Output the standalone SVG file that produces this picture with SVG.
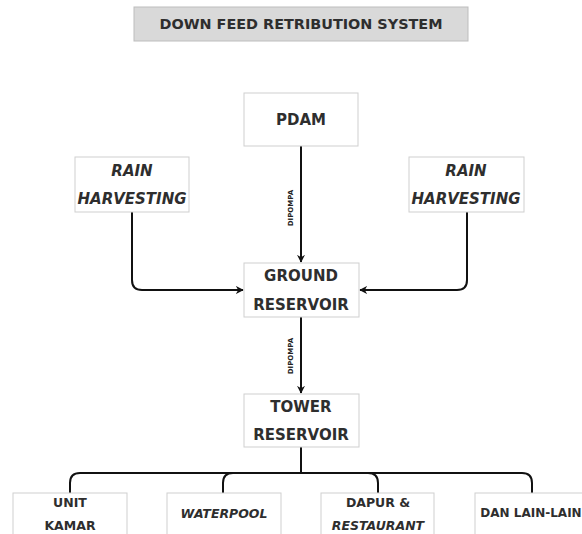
<svg xmlns="http://www.w3.org/2000/svg" width="582" height="534" viewBox="0 0 582 534">
  <defs>
    <marker id="arrow" viewBox="0 0 10 10" refX="9" refY="5" markerWidth="8" markerHeight="8" orient="auto-start-reverse" markerUnits="userSpaceOnUse">
      <path d="M0,0 L10,5 L0,10 L3,5 Z" fill="#111"/>
    </marker>
    <style>
      .box { fill: #ffffff; stroke: #cfcfcf; stroke-width: 1; }
      .title-box { fill: #d9d9d9; stroke: #bdbdbd; stroke-width: 1; }
      .lbl { font-family: "DejaVu Sans", "Liberation Sans", sans-serif; font-weight: 700; fill: #2e2e2e; text-anchor: middle; dominant-baseline: central; }
      .big { font-size: 15px; }
      .mid { font-size: 12.5px; }
      .small { font-size: 12px; }
      .it { font-style: italic; }
      .title { font-size: 14.4px; }
      .edge { fill: none; stroke: #111; stroke-width: 2; }
      .edge-lbl { font-family: "DejaVu Sans", "Liberation Sans", sans-serif; font-weight: 700; font-size: 7px; fill: #222; text-anchor: middle; dominant-baseline: central; }
    </style>
  </defs>

  <rect width="582" height="534" fill="#ffffff"/>

  <g id="title">
    <rect class="title-box" x="134" y="7" width="334" height="34"/>
    <text class="lbl title" x="301" y="24">DOWN FEED RETRIBUTION SYSTEM</text>
  </g>

  <g id="connectors">
    <!-- PDAM to ground reservoir -->
    <path class="edge" d="M301,146 V262" marker-end="url(#arrow)"/>
    <text class="edge-lbl" transform="translate(291,208) rotate(-90)">DIPOMPA</text>
    <!-- rain harvesting (left) -->
    <path class="edge" d="M132,212 V280 Q132,290 142,290 H243" marker-end="url(#arrow)"/>
    <!-- rain harvesting (right) -->
    <path class="edge" d="M467,212 V280 Q467,290 457,290 H360" marker-end="url(#arrow)"/>
    <!-- ground reservoir to tower reservoir -->
    <path class="edge" d="M301,317 V393" marker-end="url(#arrow)"/>
    <text class="edge-lbl" transform="translate(291,356) rotate(-90)">DIPOMPA</text>
    <!-- tower reservoir distribution -->
    <path class="edge" d="M301,447 V473"/>
    <path class="edge" d="M301,473 H80 Q70,473 70,483 V493"/>
    <path class="edge" d="M301,473 H233 Q223,473 223,483 V493"/>
    <path class="edge" d="M301,473 H368 Q378,473 378,483 V493"/>
    <path class="edge" d="M301,473 H522 Q532,473 532,483 V493"/>
  </g>

  <g id="pdam">
    <rect class="box" x="244" y="93" width="114" height="53"/>
    <text class="lbl big" x="301" y="120">PDAM</text>
  </g>

  <g id="rain-left">
    <rect class="box" x="75" y="157" width="114" height="55"/>
    <text class="lbl big it" x="132" y="171">RAIN</text>
    <text class="lbl big it" x="132" y="199">HARVESTING</text>
  </g>

  <g id="rain-right">
    <rect class="box" x="409" y="157" width="115" height="55"/>
    <text class="lbl big it" x="466" y="171">RAIN</text>
    <text class="lbl big it" x="466" y="199">HARVESTING</text>
  </g>

  <g id="ground-reservoir">
    <rect class="box" x="244" y="263" width="115" height="54"/>
    <text class="lbl big" x="301" y="276">GROUND</text>
    <text class="lbl big" x="301" y="305">RESERVOIR</text>
  </g>

  <g id="tower-reservoir">
    <rect class="box" x="244" y="394" width="115" height="53"/>
    <text class="lbl big" x="301" y="407">TOWER</text>
    <text class="lbl big" x="301" y="435">RESERVOIR</text>
  </g>

  <g id="unit-kamar">
    <rect class="box" x="13" y="493" width="114" height="50"/>
    <text class="lbl mid" x="70" y="502">UNIT</text>
    <text class="lbl mid" x="70" y="525">KAMAR</text>
  </g>

  <g id="waterpool">
    <rect class="box" x="167" y="493" width="114" height="50"/>
    <text class="lbl mid it" x="224" y="513">WATERPOOL</text>
  </g>

  <g id="dapur-restaurant">
    <rect class="box" x="321" y="493" width="113" height="50"/>
    <text class="lbl mid" x="378" y="502">DAPUR &amp;</text>
    <text class="lbl mid it" x="378" y="525">RESTAURANT</text>
  </g>

  <g id="dan-lain-lain">
    <rect class="box" x="475" y="493" width="114" height="50"/>
    <text class="lbl small" x="531" y="513">DAN LAIN-LAIN</text>
  </g>
</svg>
